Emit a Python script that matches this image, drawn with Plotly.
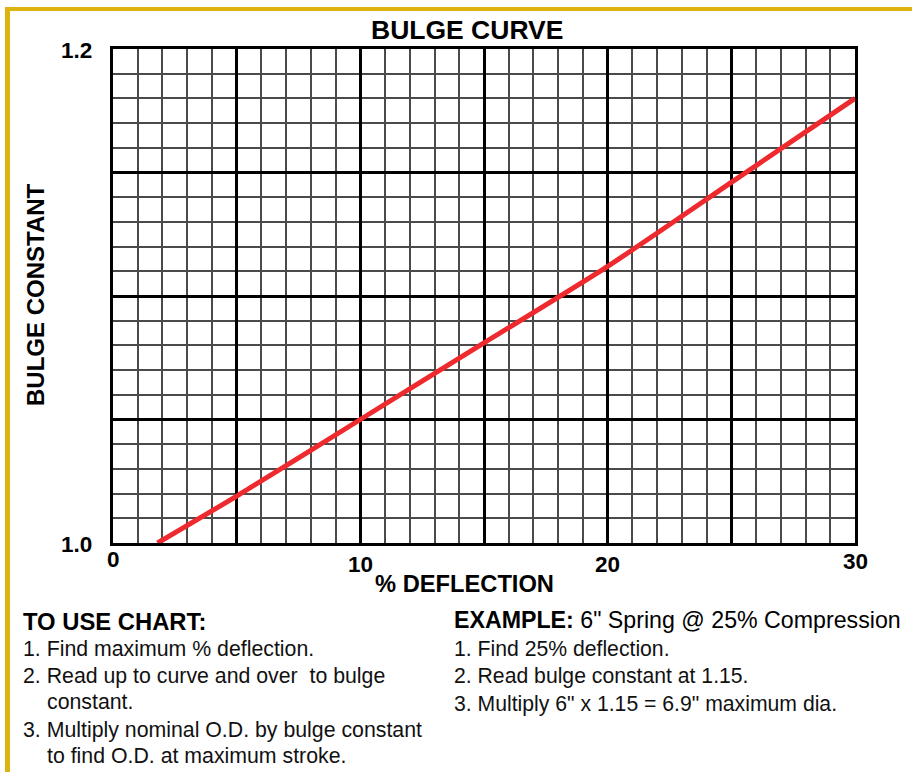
import plotly.graph_objects as go

# ---- data ----
deflection_pct = [1.8, 5, 10, 15, 20, 25, 30]
bulge_constant = [1.000, 1.019, 1.050, 1.081, 1.112, 1.146, 1.180]

x_tick_vals = [0, 10, 20, 30]
x_tick_text = ["0", "10", "20", "30"]
y_tick_vals = [1.2, 1.0]
y_tick_text = ["1.2", "1.0"]

title_text = "BULGE CURVE"
x_title = "% DEFLECTION"
y_title = "BULGE CONSTANT"

use_header = "TO USE CHART:"
use_lines = [
    "1. Find maximum % deflection.",
    "2. Read up to curve and over  to bulge",
    "   constant.",
    "3. Multiply nominal O.D. by bulge constant",
    "   to find O.D. at maximum stroke.",
]
example_header = "<b>EXAMPLE:</b> 6\" Spring @ 25% Compression"
example_lines = [
    "1. Find 25% deflection.",
    "2. Read bulge constant at 1.15.",
    "3. Multiply 6\" x 1.15 = 6.9\" maximum dia.",
]

# ---- layout geometry (pixels) ----
W, H = 912, 772
L, R, T, B = 113, 855, 49, 543
FONT = "'Liberation Sans', Arial, sans-serif"


def px(xp):
    return (xp - L) / (R - L)


def py(yp):
    return (B - yp) / (B - T)


fig = go.Figure()
fig.add_trace(go.Scatter(
    x=deflection_pct, y=bulge_constant, mode="lines",
    line=dict(color="#EE2A2E", width=5, shape="spline", smoothing=0.6),
    hoverinfo="skip", showlegend=False,
))

ann = []
# title
ann.append(dict(text="<b>%s</b>" % title_text, x=px(467), y=py(30), xref="paper", yref="paper",
                showarrow=False, xanchor="center", yanchor="middle",
                font=dict(size=26.5, color="black", family=FONT)))
# x axis title
ann.append(dict(text="<b>%s</b>" % x_title, x=px(464), y=py(584), xref="paper", yref="paper",
                showarrow=False, xanchor="center", yanchor="middle",
                font=dict(size=23.7, color="black", family=FONT)))
# y axis title
ann.append(dict(text="<b>%s</b>" % y_title, x=px(35), y=py(295), xref="paper", yref="paper",
                showarrow=False, xanchor="center", yanchor="middle", textangle=-90,
                font=dict(size=24, color="black", family=FONT)))
# x tick labels
x_label_py = [559, 564, 564, 561]
for v, t, yp in zip(x_tick_vals, x_tick_text, x_label_py):
    ann.append(dict(text="<b>%s</b>" % t, x=v, y=py(yp), xref="x", yref="paper",
                    showarrow=False, xanchor="center", yanchor="middle",
                    font=dict(size=22.5, color="black", family=FONT)))
# y tick labels
for v, t in zip(y_tick_vals, y_tick_text):
    ann.append(dict(text="<b>%s</b>" % t, x=px(94), y=v, xref="paper", yref="y",
                    showarrow=False, xanchor="right", yanchor="middle", yshift=-1,
                    font=dict(size=22.5, color="black", family=FONT)))

# instructions
ann.append(dict(text="<b>%s</b>" % use_header, x=px(21), y=py(621), xref="paper", yref="paper",
                showarrow=False, xanchor="left", yanchor="middle",
                font=dict(size=23.8, color="black", family=FONT)))
use_py = [649, 676, 702, 730, 756]
for t, yp in zip(use_lines, use_py):
    indent = 45 if t.startswith("   ") else 21
    ann.append(dict(text=t.strip(), x=px(indent), y=py(yp), xref="paper", yref="paper",
                    showarrow=False, xanchor="left", yanchor="middle",
                    font=dict(size=21.3, color="#111111", family=FONT)))
ann.append(dict(text=example_header, x=px(452), y=py(620), xref="paper", yref="paper",
                showarrow=False, xanchor="left", yanchor="middle",
                font=dict(size=23.2, color="black", family=FONT)))
ex_py = [648, 676, 704]
for t, yp in zip(example_lines, ex_py):
    ann.append(dict(text=t, x=px(452), y=py(yp), xref="paper", yref="paper",
                    showarrow=False, xanchor="left", yanchor="middle",
                    font=dict(size=21.2, color="#111111", family=FONT)))

shapes = [
    # golden frame (top and left)
    dict(type="rect", xref="paper", yref="paper", x0=px(5), x1=px(W + 20), y0=py(7), y1=py(11),
         fillcolor="#DDB30F", line=dict(width=0), layer="above"),
    dict(type="rect", xref="paper", yref="paper", x0=px(5), x1=px(10), y0=py(7), y1=py(H + 20),
         fillcolor="#DDB30F", line=dict(width=0), layer="above"),
]

fig.update_layout(
    width=W, height=H,
    margin=dict(l=L, r=W - R, t=T, b=H - B),
    paper_bgcolor="white", plot_bgcolor="white",
    annotations=ann, shapes=shapes, showlegend=False,
    font=dict(family=FONT, color="black"),
)
fig.update_xaxes(
    range=[0, 30], dtick=5, tick0=0, showticklabels=False, ticks="",
    showgrid=True, gridcolor="black", gridwidth=3, zeroline=False,
    showline=True, linecolor="black", linewidth=3, mirror=True,
    minor=dict(dtick=1, tick0=0, showgrid=True, gridcolor="#4a4a4a", gridwidth=2, ticks=""),
    fixedrange=True,
)
fig.update_yaxes(
    range=[1.0, 1.2], dtick=0.05, tick0=1.0, showticklabels=False, ticks="",
    showgrid=True, gridcolor="black", gridwidth=3, zeroline=False,
    showline=True, linecolor="black", linewidth=3, mirror=True,
    minor=dict(dtick=0.01, tick0=1.0, showgrid=True, gridcolor="#4a4a4a", gridwidth=2, ticks=""),
    fixedrange=True,
)

fig.write_html("out.html", config={"displayModeBar": False},
               post_script="document.body.style.margin='0';document.body.style.overflow='hidden';")
